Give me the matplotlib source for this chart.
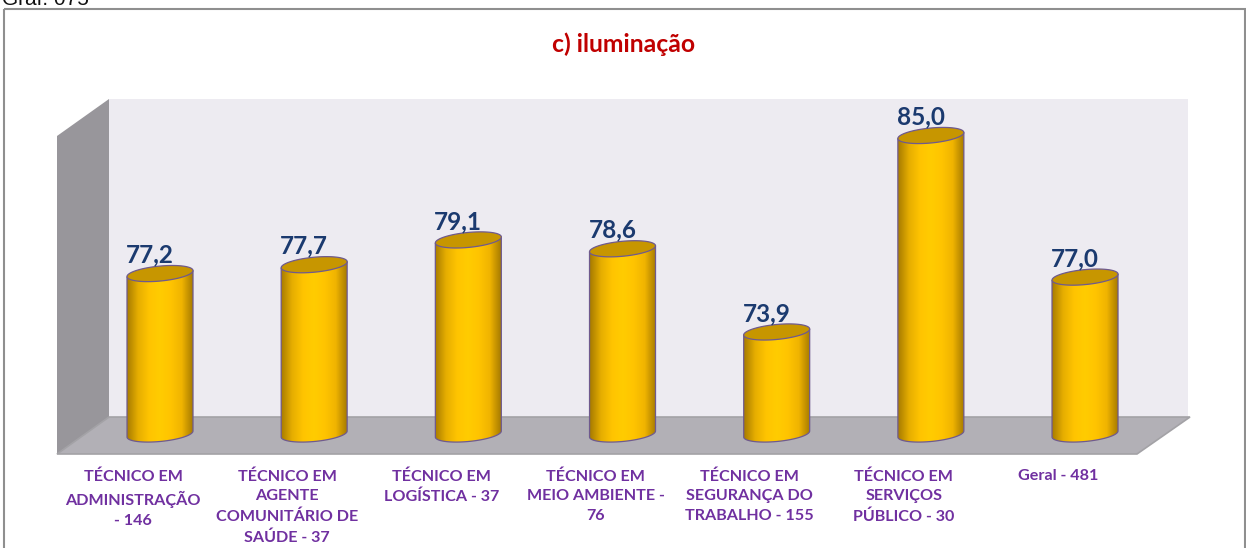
import matplotlib
matplotlib.use('Agg')
import matplotlib.pyplot as plt
import numpy as np
from matplotlib.colors import LinearSegmentedColormap
from matplotlib.patches import Polygon, Rectangle, PathPatch
from matplotlib.path import Path

categories = [
    'TÉCNICO EM\nADMINISTRAÇÃO\n- 146',
    'TÉCNICO EM\nAGENTE\nCOMUNITÁRIO DE\nSAÚDE - 37',
    'TÉCNICO EM\nLOGÍSTICA - 37',
    'TÉCNICO EM\nMEIO AMBIENTE -\n76',
    'TÉCNICO EM\nSEGURANÇA DO\nTRABALHO - 155',
    'TÉCNICO EM\nSERVIÇOS\nPÚBLICO - 30',
    'Geral - 481',
]
values = [77.2, 77.7, 79.1, 78.6, 73.9, 85.0, 77.0]
labels = ['77,2', '77,7', '79,1', '78,6', '73,9', '85,0', '77,0']
title = 'c) iluminação'
header = 'Graf. 075'

W, H = 1246, 548
X0, DX = 160.0, 154.17      # pixel of first bar, pixels between bars
Y85, DY = 135.5, 17.7       # pixel of value 85, pixels per unit
BASE_PX = 434.0
base = 85 - (BASE_PX - Y85) / DY
half_w = 33 / DX
half_h = 7.5 / DY
tilt = (3 / DY) / (33 / DX)   # rises to the right

fig = plt.figure(figsize=(W / 100, H / 100), dpi=100, facecolor='white')

# pixel coordinates for the box of the 3D scene
bg = fig.add_axes([0, 0, 1, 1])
bg.set_xlim(0, W)
bg.set_ylim(H, 0)
bg.axis('off')
bg.add_patch(Rectangle((3.5, 9), 1241, 560, fill=False, ec='#8f8f8f', lw=1.5))
bg.add_patch(Polygon([(109, 99), (1188, 99), (1188, 417), (109, 417)], fc='#edebf1', ec='none'))
bg.add_patch(Polygon([(57, 136), (109, 99), (109, 417), (57, 454)], fc='#98969b', ec='none'))
bg.add_patch(Polygon([(57, 454), (109, 417), (1190, 417), (1137, 454)],
                     fc='#b2b0b6', ec='#a3a2a6', lw=1.2))

# data axes for the bars, same area as the figure
ax = fig.add_axes([0, 0, 1, 1], facecolor='none')
ax.axis('off')
xlim = (-X0 / DX, (W - X0) / DX)
ylim = (85 - (H - Y85) / DY, 85 + Y85 / DY)

cmap = LinearSegmentedColormap.from_list(
    'cyl', ['#a87c00', '#e6ae00', '#ffc400', '#ffcc00', '#ffc400', '#f0b400', '#a87c00'])
grad = np.linspace(0, 1, 128).reshape(1, -1)
t = np.linspace(0, 2 * np.pi, 80)


def ring(xc, yc):
    ex = half_w * np.cos(t)
    ey = half_h * np.sin(t) + tilt * half_w * np.cos(t)
    return xc + ex, yc + ey


x = np.arange(len(values))
bars = ax.bar(x, np.array(values) - base, 2 * half_w, bottom=base, color='#ffc800', lw=0)

for i, b in enumerate(bars):
    val = values[i]
    tx, ty = ring(i, val)
    bx, by = ring(i, base)
    low = t > np.pi
    # body path: left side -> bottom arc -> right side -> top
    body = Path(np.c_[
        np.r_[i - half_w, bx[low], i + half_w, i + half_w, i - half_w, i - half_w],
        np.r_[val - tilt * half_w, by[low], base + tilt * half_w, val + tilt * half_w,
              val - tilt * half_w, val - tilt * half_w]])
    patch = PathPatch(body, transform=ax.transData, fc='none', ec='#6f5a8e', lw=0.9, zorder=4)
    ax.add_patch(patch)
    b.set_clip_path(patch)
    im = ax.imshow(grad, cmap=cmap, extent=(i - half_w, i + half_w, base - 1, val + 1),
                   aspect='auto', zorder=3)
    im.set_clip_path(patch)
    ax.fill(tx, ty, fc='#c79600', ec='#6f5a8e', lw=0.9, zorder=5)
    ax.text(i - 0.065, val + 0.62, labels[i], ha='center', va='baseline', color='#1b3a6f',
            fontsize=17.5, fontweight='bold', family='Lato', zorder=6)
    ax.text(i - 0.175, ylim[0] + (548 - 469) / DY, categories[i], ha='center', va='top',
            color='#7030a0', fontsize=11.6, fontweight='bold', family='Lato', linespacing=1.53)

ax.set_xlim(xlim)
ax.set_ylim(ylim)

fig.text(624 / W, 1 - 44 / H, title, ha='center', va='center', color='#c00000',
         fontsize=17.8, fontweight='bold', family='Lato')
fig.text(2 / W, 1 - 5 / H, header, ha='left', va='baseline', color='#111111',
         fontsize=15, family='Liberation Sans')

fig.savefig('out.png', dpi=100)
